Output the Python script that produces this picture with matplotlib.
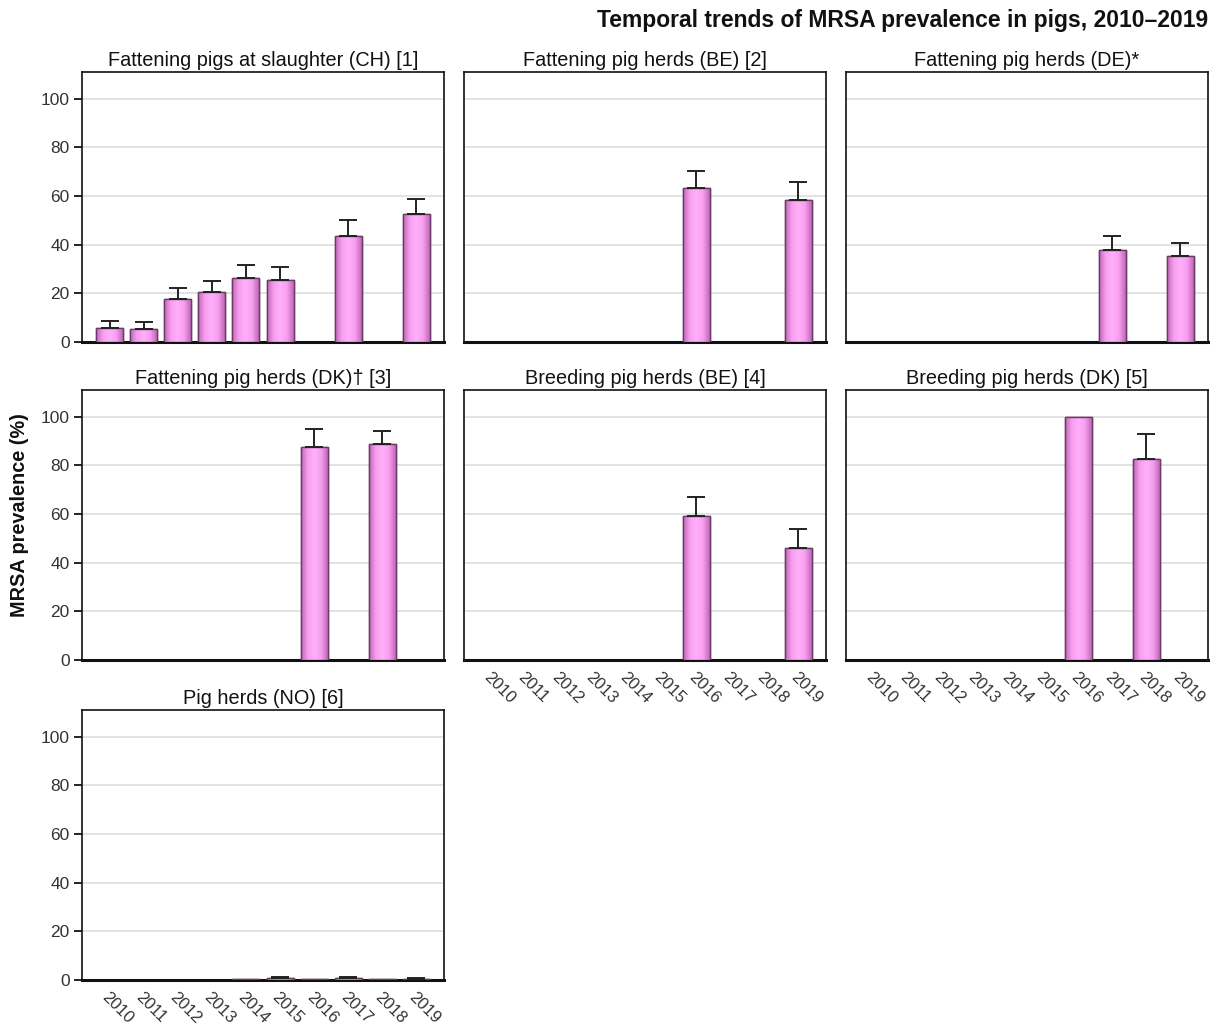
import numpy as np
import matplotlib
matplotlib.use("Agg")
import matplotlib.pyplot as plt
from matplotlib.colors import LinearSegmentedColormap

plt.rcParams['font.family'] = ['Liberation Sans', 'DejaVu Sans']

# ---- data ----------------------------------------------------------------
years = ["2010", "2011", "2012", "2013", "2014", "2015", "2016", "2017", "2018", "2019"]
nan = np.nan

titles = ["Fattening pigs at slaughter (CH) [1]", "Fattening pig herds (BE) [2]",
          "Fattening pig herds (DE)*", "Fattening pig herds (DK)\u2020 [3]",
          "Breeding pig herds (BE) [4]", "Breeding pig herds (DK) [5]",
          "Pig herds (NO) [6]"]

ch_val = [5.6, 5.2, 17.7, 20.4, 26.2, 25.4, nan, 43.6, nan, 52.7]
ch_up  = [8.6, 8.4, 22.3, 25.2, 31.8, 31.0, nan, 50.0, nan, 58.8]
be_f_val = [nan, nan, nan, nan, nan, nan, 63.2, nan, nan, 58.2]
be_f_up  = [nan, nan, nan, nan, nan, nan, 70.5, nan, nan, 65.7]
de_val = [nan, nan, nan, nan, nan, nan, nan, 37.9, nan, 35.4]
de_up  = [nan, nan, nan, nan, nan, nan, nan, 43.6, nan, 40.7]
dk_f_val = [nan, nan, nan, nan, nan, nan, 87.7, nan, 88.9, nan]
dk_f_up  = [nan, nan, nan, nan, nan, nan, 95.0, nan, 94.2, nan]
be_b_val = [nan, nan, nan, nan, nan, nan, 59.3, nan, nan, 46.1]
be_b_up  = [nan, nan, nan, nan, nan, nan, 67.1, nan, nan, 53.9]
dk_b_val = [nan, nan, nan, nan, nan, nan, 100.0, nan, 82.7, nan]
dk_b_up  = [nan, nan, nan, nan, nan, nan, nan, nan, 93.0, nan]
no_val = [nan, nan, nan, nan, 0.5, 0.7, 0.5, 0.7, 0.4, 0.6]
no_up  = [nan, nan, nan, nan, nan, 1.3, nan, 1.2, nan, 1.0]

values = [ch_val, be_f_val, de_val, dk_f_val, be_b_val, dk_b_val, no_val]
uppers = [ch_up, be_f_up, de_up, dk_f_up, be_b_up, dk_b_up, no_up]
show_x = [False, False, False, False, True, True, True]

# ---- layout ---------------------------------------------------------------
W, H = 1215, 1028
fig = plt.figure(figsize=(W/100, H/100), dpi=100)
col_left = [82, 464, 846]
row_top = [72, 390, 710]
aw, ah = 362, 270
pos = [(0, 0), (0, 1), (0, 2), (1, 0), (1, 1), (1, 2), (2, 0)]

grad = LinearSegmentedColormap.from_list("pinkgrad", ["#c068b5", "#f79ef0", "#ffb0f8", "#f79ef0", "#c068b5"])
g = np.linspace(0, 1, 64).reshape(1, -1)

x = np.arange(len(years))
for i, (r, c) in enumerate(pos):
    ax = fig.add_axes([col_left[c]/W, 1-(row_top[r]+ah)/H, aw/W, ah/H])
    v = np.array(values[i], dtype=float)
    up = np.array(uppers[i], dtype=float)
    m = ~np.isnan(v)
    bars = ax.bar(x[m], v[m], width=0.79, color="#f79ef0", edgecolor="#6b3a66", linewidth=1.0, zorder=3)
    for b in bars:
        im = ax.imshow(g, cmap=grad, aspect="auto", zorder=3.5,
                       extent=(b.get_x(), b.get_x()+b.get_width(), 0, b.get_height()))
        im.set_clip_path(b)
        b2 = plt.Rectangle((b.get_x(), 0), b.get_width(), b.get_height(), fill=False,
                           edgecolor="#6b3a66", linewidth=1.0, zorder=4)
        ax.add_patch(b2)
    e = ~np.isnan(up) & m
    ax.errorbar(x[e], v[e], yerr=[np.zeros(e.sum()), up[e]-v[e]], fmt="none",
                ecolor="#222222", elinewidth=1.4, capsize=6.5, capthick=1.4, zorder=5)
    ax.set_xlim(-0.81, 9.81)
    ax.set_ylim(0, 111)
    ax.set_yticks([0, 20, 40, 60, 80, 100])
    ax.yaxis.grid(True, color="#dddddd", linewidth=1.2, zorder=0)
    ax.set_axisbelow(True)
    for s in ax.spines.values():
        s.set_linewidth(1.2)
        s.set_color("#111111")
    ax.spines["bottom"].set_linewidth(2.2)
    ax.tick_params(axis="y", length=6, width=1.2, labelsize=12.5, labelcolor="#333333", pad=3)
    ax.set_xticks(x)
    if show_x[i]:
        ax.set_xticklabels(years, rotation=-45, ha="left", va="top", rotation_mode="anchor",
                           fontsize=12, color="#333333")
        ax.tick_params(axis="x", length=0, pad=7)
    else:
        ax.tick_params(axis="x", length=0, labelbottom=False)
    if c != 0:
        ax.tick_params(axis="y", left=False, labelleft=False)
    ax.set_title(titles[i], fontsize=14.3, pad=4, color="#111111")

fig.text(1208/W, 1-20/H, "Temporal trends of MRSA prevalence in pigs, 2010\u20132019",
         ha="right", va="center", fontsize=16.5, fontweight="bold", color="#111111")
fig.text(20/W, 1-515/H, "MRSA prevalence (%)", rotation=90, ha="center", va="center",
         fontsize=14.3, fontweight="bold", color="#111111")

fig.savefig("out.png", dpi=100)
